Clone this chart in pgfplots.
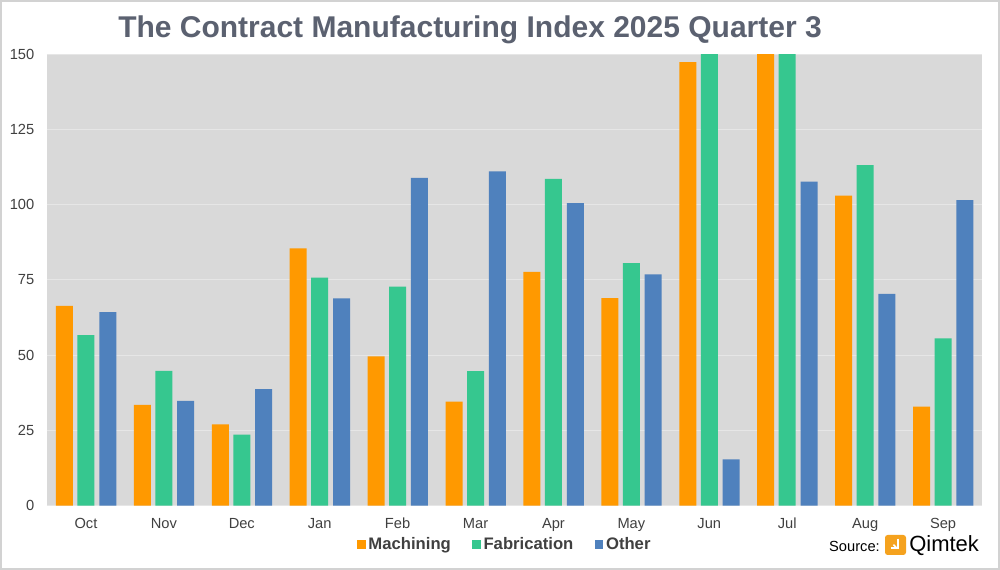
\documentclass[border=0pt]{standalone}
\usepackage{pgfplots}
\pgfplotsset{compat=1.18}
\usepackage{pgfplotstable}
\usepackage{fontspec}
\setmainfont{Liberation Sans}
\definecolor{cM}{HTML}{FF9900}
\definecolor{cF}{HTML}{36C78F}
\definecolor{cO}{HTML}{4F81BD}
\definecolor{bgc}{HTML}{D9D9D9}
\definecolor{gridc}{HTML}{E6E6E6}
\definecolor{titlec}{HTML}{5B6170}
\definecolor{txt}{HTML}{404040}
\definecolor{logoc}{HTML}{F5A21E}

\pgfplotstableread{
x M F O
0 66.4 56.7 64.3
1 33.5 44.8 34.8
2 27.0 23.6 38.7
3 85.5 75.8 68.9
4 49.6 72.8 108.9
5 34.6 44.7 111.1
6 77.7 108.6 100.5
7 69.0 80.6 76.9
8 147.4 160 15.4
9 160 160 107.7
10 103.0 113.2 70.4
11 32.9 55.6 101.5
}\datatable

\begin{document}
\begin{tikzpicture}
\useasboundingbox (0,0) rectangle (750pt,427.5pt);
\fill[white] (0,0) rectangle (750pt,427.5pt);
\begin{axis}[
  at={(35.25pt,48.2pt)}, anchor=south west,
  scale only axis, width=701.25pt, height=338.6pt,
  xmin=-0.5, xmax=11.5, ymin=0, ymax=150,
  axis background/.style={fill=bgc},
  axis line style={draw=none},
  ybar, bar width=0.218,
  xtick={0,...,11},
  xticklabels={Oct,Nov,Dec,Jan,Feb,Mar,Apr,May,Jun,Jul,Aug,Sep},
  ytick={0,25,...,150},
  ymajorgrids, grid style={color=gridc, line width=0.75pt},
  major tick length=0pt,
  /pgf/number format/assume math mode=true,
  tick label style={font=\fontsize{11}{13}\selectfont, text=txt},
  yticklabel style={xshift=-6pt},
  xticklabel style={yshift=-5.5pt, text height=8pt, text depth=2pt},
  legend style={at={(0.49,-0.086)}, anchor=center, draw=none, fill=none,
    legend columns=3, font=\fontsize{12.5}{15}\selectfont\bfseries, text=txt,
    /tikz/every even column/.append style={column sep=14pt}, inner sep=0pt},
  legend image code/.code={\fill[#1, draw=none] (0pt,-3.2pt) rectangle (6.5pt,3.2pt);},
]
\addplot[fill=cM, draw=none, bar shift=-0.276] table[x=x,y=M]{\datatable};
\addlegendentry{Machining}
\addplot[fill=cF, draw=none, bar shift=0] table[x=x,y=F]{\datatable};
\addlegendentry{Fabrication}
\addplot[fill=cO, draw=none, bar shift=0.28] table[x=x,y=O]{\datatable};
\addlegendentry{Other}
\end{axis}
\node[anchor=base, font=\fontsize{22.5}{27}\selectfont\bfseries, text=titlec, inner sep=0pt] at (352.5pt,399.2pt) {The Contract Manufacturing Index 2025 Quarter 3};
\node[anchor=base east, font=\fontsize{11}{13}\selectfont, text=black, inner sep=0pt] at (660pt,13.5pt) {Source:};
\fill[logoc, rounded corners=2pt] (663.75pt,11.25pt) rectangle (679.5pt,26.25pt);
\draw[white, line width=1.6pt] (673.5pt,23.5pt) -- (673.5pt,16.5pt) -- (668pt,16.5pt);
\draw[white, line width=1.2pt] (670pt,19pt) -- (672pt,17pt);
\node[anchor=base west, font=\fontsize{16.5}{19}\selectfont, text=black, inner sep=0pt] at (681.75pt,13.5pt) {Qimtek};
\draw[color=gray!35, line width=1.5pt] (0.75pt,0.75pt) rectangle (749.25pt,426.75pt);
\end{tikzpicture}
\end{document}
